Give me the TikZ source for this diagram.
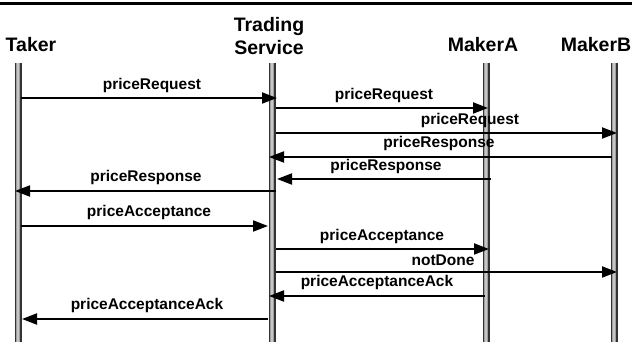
\documentclass[tikz,border=0pt]{standalone}
\usepackage{fontspec}
\setmainfont{Liberation Sans}
\usetikzlibrary{arrows.meta}
\begin{document}
\begin{tikzpicture}[x=1pt,y=-1pt,
  hdr/.style={font=\fontsize{19.5}{23.3}\selectfont\bfseries, inner sep=0pt, text depth=0pt, align=center},
  lbl/.style={font=\fontsize{15.5}{18}\selectfont\bfseries, inner sep=0pt, anchor=base},
  msg/.style={line width=2pt, -{Triangle[length=15pt,width=11pt]}},
  lifeouter/.style={line width=7pt, draw=black!80},
  lifemid/.style={line width=4.6pt, draw=gray!75},
  lifeinner/.style={line width=1.6pt, draw=gray!45}]
\useasboundingbox (0,0) rectangle (632,347);
\draw[line width=3pt] (0,4) -- (632,4);
% headers
\node[hdr, anchor=base] (hTaker) at (31,52) {Taker};
\node[hdr, anchor=south] (hTS) at (269,55) {Trading\\Service};
\node[hdr, anchor=base] (hMA) at (483,52) {MakerA};
\node[hdr, anchor=base] (hMB) at (596,52) {MakerB};
% lifelines
\coordinate (taker) at (18,63);
\coordinate (ts) at (272,63);
\coordinate (ma) at (486,63);
\coordinate (mb) at (614,63);
\coordinate (bot) at (0,342);
\foreach \c in {taker,ts,ma,mb}{
  \draw[lifeouter] (\c) -- (\c |- bot);
  \draw[lifemid] (\c) -- (\c |- bot);
  \draw[lifeinner] (\c) -- (\c |- bot);
}
% messages
\draw[msg, shorten <=3pt, shorten >=-5pt] (taker |- 0,98) -- (ts |- 0,98);
\node[lbl] (l1) at (152,89.5) {priceRequest};
\draw[msg, shorten <=4pt, shorten >=-2pt] (ts |- 0,108) -- (ma |- 0,108);
\node[lbl] (l2) at (384,100) {priceRequest};
\draw[msg, shorten <=4pt, shorten >=-3pt] (ts |- 0,133) -- (mb |- 0,133);
\node[lbl] (l3) at (470,125) {priceRequest};
\draw[msg, shorten <=2pt, shorten >=-3pt] (mb |- 0,157) -- (ts |- 0,157);
\node[lbl] (l4) at (439,148) {priceResponse};
\draw[msg, shorten <=-5pt, shorten >=5pt] (ma |- 0,179) -- (ts |- 0,179);
\node[lbl] (l5) at (386,171) {priceResponse};
\draw[msg, shorten <=-4pt, shorten >=-3pt] (ts |- 0,191) -- (taker |- 0,191);
\node[lbl] (l6) at (146,182) {priceResponse};
\draw[msg, shorten <=3pt, shorten >=4pt] (taker |- 0,226) -- (ts |- 0,226);
\node[lbl] (l7) at (149,217) {priceAcceptance};
\draw[msg, shorten <=4pt, shorten >=-3pt] (ts |- 0,249) -- (ma |- 0,249);
\node[lbl] (l8) at (382,241) {priceAcceptance};
\draw[msg, shorten <=4pt, shorten >=-3pt] (ts |- 0,272) -- (mb |- 0,272);
\node[lbl] (l9) at (443,266) {notDone};
\draw[msg, shorten <=1pt, shorten >=-3pt] (ma |- 0,296) -- (ts |- 0,296);
\node[lbl] (l10) at (377,287) {priceAcceptanceAck};
\draw[msg, shorten <=4pt, shorten >=4pt] (ts |- 0,319) -- (taker |- 0,319);
\node[lbl] (l11) at (147,310) {priceAcceptanceAck};
\end{tikzpicture}
\end{document}
